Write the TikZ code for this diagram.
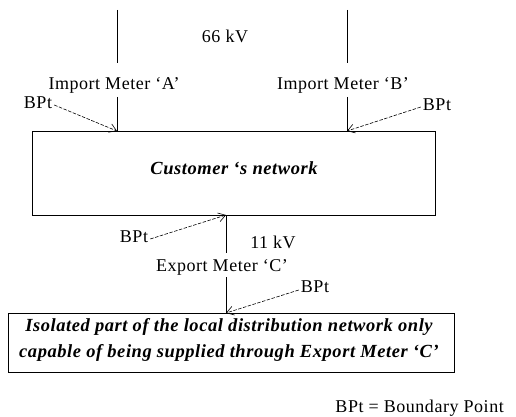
\documentclass[tikz,border=0pt]{standalone}
\usepackage{fontspec}
\setmainfont{Liberation Serif}[LetterSpace=3]
\usetikzlibrary{arrows.meta}
\begin{document}
\begin{tikzpicture}[x=1pt,y=-1pt,
  lbl/.style={inner sep=0pt,font=\fontsize{18}{21}\selectfont},
  boxtxt/.style={inner sep=0pt,font=\fontsize{18.5}{25.5}\selectfont\bfseries\itshape,align=center},
  wire/.style={line width=1pt},
  bpt/.style={dashed,dash pattern=on 3.5pt off 1.5pt,line width=0.6pt,-{Straight Barb[length=7pt,width=9pt,line width=0.6pt]}},
  frame/.style={draw,line width=1pt}]
\useasboundingbox (0,0) rectangle (516,417);
% boxes
\node[frame,minimum width=403pt,minimum height=84pt,anchor=north west,inner sep=0pt] (cust) at (32,131) {};
\node[boxtxt] (custtxt) at (234,168) {Customer ‘s network};
\node[frame,minimum width=446pt,minimum height=59pt,anchor=north west,inner sep=0pt] (iso) at (8,313) {};
\node[boxtxt] (isotxt) at (229,340) {Isolated part of the local distribution network only\\capable of being supplied through Export Meter ‘C’};
% labels
\node[lbl] (kv66) at (225,36) {66 kV};
\node[lbl] (ma) at (114,85) {Import Meter ‘A’};
\node[lbl] (mb) at (343,85) {Import Meter ‘B’};
\node[lbl] (kv11) at (273,242) {11 kV};
\node[lbl] (mc) at (222,267) {Export Meter ‘C’};
\node[lbl] (bpa) at (38,103) {BPt};
\node[lbl] (bpb) at (437,105) {BPt};
\node[lbl] (bpc) at (134,237) {BPt};
\node[lbl] (bpd) at (315,287) {BPt};
\node[lbl,anchor=east] (legend) at (504,408) {BPt = Boundary Point};
% coordinates
\coordinate (a0) at (117,10); \coordinate (a1) at (117,63); \coordinate (a2) at (117,97); \coordinate (a3) at (117,131);
\coordinate (b0) at (347,10); \coordinate (b1) at (347,63); \coordinate (b2) at (347,97); \coordinate (b3) at (347,131);
\coordinate (c0) at (226,215); \coordinate (c1) at (226,253); \coordinate (c2) at (226,277); \coordinate (c3) at (226,313);
% wires
\draw[wire] (a0) -- (a1); \draw[wire] (a2) -- (a3);
\draw[wire] (b0) -- (b1); \draw[wire] (b2) -- (b3);
\draw[wire] (c0) -- (c1); \draw[wire] (c2) -- (c3);
% BPt arrows
\draw[bpt] (bpa.east) ++(2,2) -- (a3);
\draw[bpt] (bpb.west) ++(-2,2) -- (b3);
\draw[bpt] (bpc.east) ++(2,2) -- (c0);
\draw[bpt] (bpd.west) ++(-2,3) -- (c3);
\end{tikzpicture}
\end{document}
